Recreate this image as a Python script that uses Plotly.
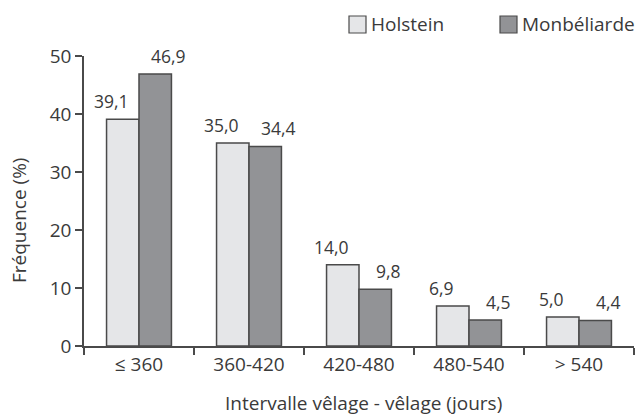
import plotly.graph_objects as go

# Calving interval classes and share of cows per breed (%)
categories = ["≤ 360", "360-420", "420-480", "480-540", "> 540"]
holstein = [39.1, 35.0, 14.0, 6.9, 5.0]
montbeliarde = [46.9, 34.4, 9.8, 4.5, 4.4]
y_ticks = [0, 10, 20, 30, 40, 50]

FONT = "Open Sans"
TEXT = "#3a3a3a"
LINE = "#4a4a4a"
COL_H = "#e5e6e8"
COL_M = "#929396"

L, R, T, B = 84, 2, 56, 70
W, H = 636, 416
PW, PH = W - L - R, H - T - B


def fr(v):
    return f"{v:.1f}".replace(".", ",")


def px_x(px):
    return (px - L) / PW


def px_y(py):
    return 1 - (py - T) / PH


fig = go.Figure()
fig.add_bar(name="Holstein", x=categories, y=holstein, showlegend=False,
            marker=dict(color=COL_H, line=dict(color=LINE, width=1.5)))
fig.add_bar(name="Monbéliarde", x=categories, y=montbeliarde, showlegend=False,
            marker=dict(color=COL_M, line=dict(color=LINE, width=1.5)))

# value labels above each bar, pushed slightly outward from the pair
for i, c in enumerate(categories):
    fig.add_annotation(x=c, y=holstein[i], text=fr(holstein[i]), xshift=-28,
                       yshift=4, yanchor="bottom", showarrow=False,
                       font=dict(family=FONT, size=17.5, color=TEXT))
    fig.add_annotation(x=c, y=montbeliarde[i], text=fr(montbeliarde[i]), xshift=29,
                       yshift=4, yanchor="bottom", showarrow=False,
                       font=dict(family=FONT, size=17.5, color=TEXT))

# legend drawn as swatches + labels in the top margin
legend_items = [("Holstein", COL_H, 349), ("Monbéliarde", COL_M, 500)]
for name, col, px in legend_items:
    fig.add_shape(type="rect", xref="paper", yref="paper",
                  x0=px_x(px), x1=px_x(px + 17), y0=px_y(33), y1=px_y(16),
                  fillcolor=col, line=dict(color=LINE, width=1.2))
    fig.add_annotation(xref="paper", yref="paper", x=px_x(px + 17), xshift=3,
                       y=px_y(24.5), text=name, showarrow=False,
                       xanchor="left", yanchor="middle",
                       font=dict(family=FONT, size=19, color=TEXT))

# axis titles
fig.add_annotation(xref="paper", yref="paper", x=px_x(363), y=px_y(403),
                   text="Intervalle vêlage - vêlage (jours)", showarrow=False,
                   xanchor="center", yanchor="middle",
                   font=dict(family=FONT, size=19, color=TEXT))
fig.add_annotation(xref="paper", yref="paper", x=px_x(19), y=px_y(221),
                   text="Fréquence (%)", showarrow=False, textangle=-90,
                   xanchor="center", yanchor="middle",
                   font=dict(family=FONT, size=19, color=TEXT))

fig.update_layout(
    width=W, height=H,
    margin=dict(l=L, r=R, t=T, b=B, autoexpand=False),
    paper_bgcolor="white", plot_bgcolor="white",
    barmode="group", bargap=0.41, bargroupgap=0,
    font=dict(family=FONT, size=19, color=TEXT),
    showlegend=False,
)
fig.update_xaxes(
    showline=True, linecolor=LINE, linewidth=1.5,
    ticks="outside", tickson="boundaries", ticklen=7, tickcolor=LINE, tickwidth=1.5,
    showgrid=False, tickfont=dict(size=19),
)
fig.update_yaxes(
    range=[0, 50], tickvals=y_ticks, showline=True, linecolor=LINE, linewidth=1.5,
    ticks="outside", ticklen=7, tickcolor=LINE, tickwidth=1.5,
    showgrid=False, zeroline=False, tickfont=dict(size=19),
)

fig.write_html("out.html")
